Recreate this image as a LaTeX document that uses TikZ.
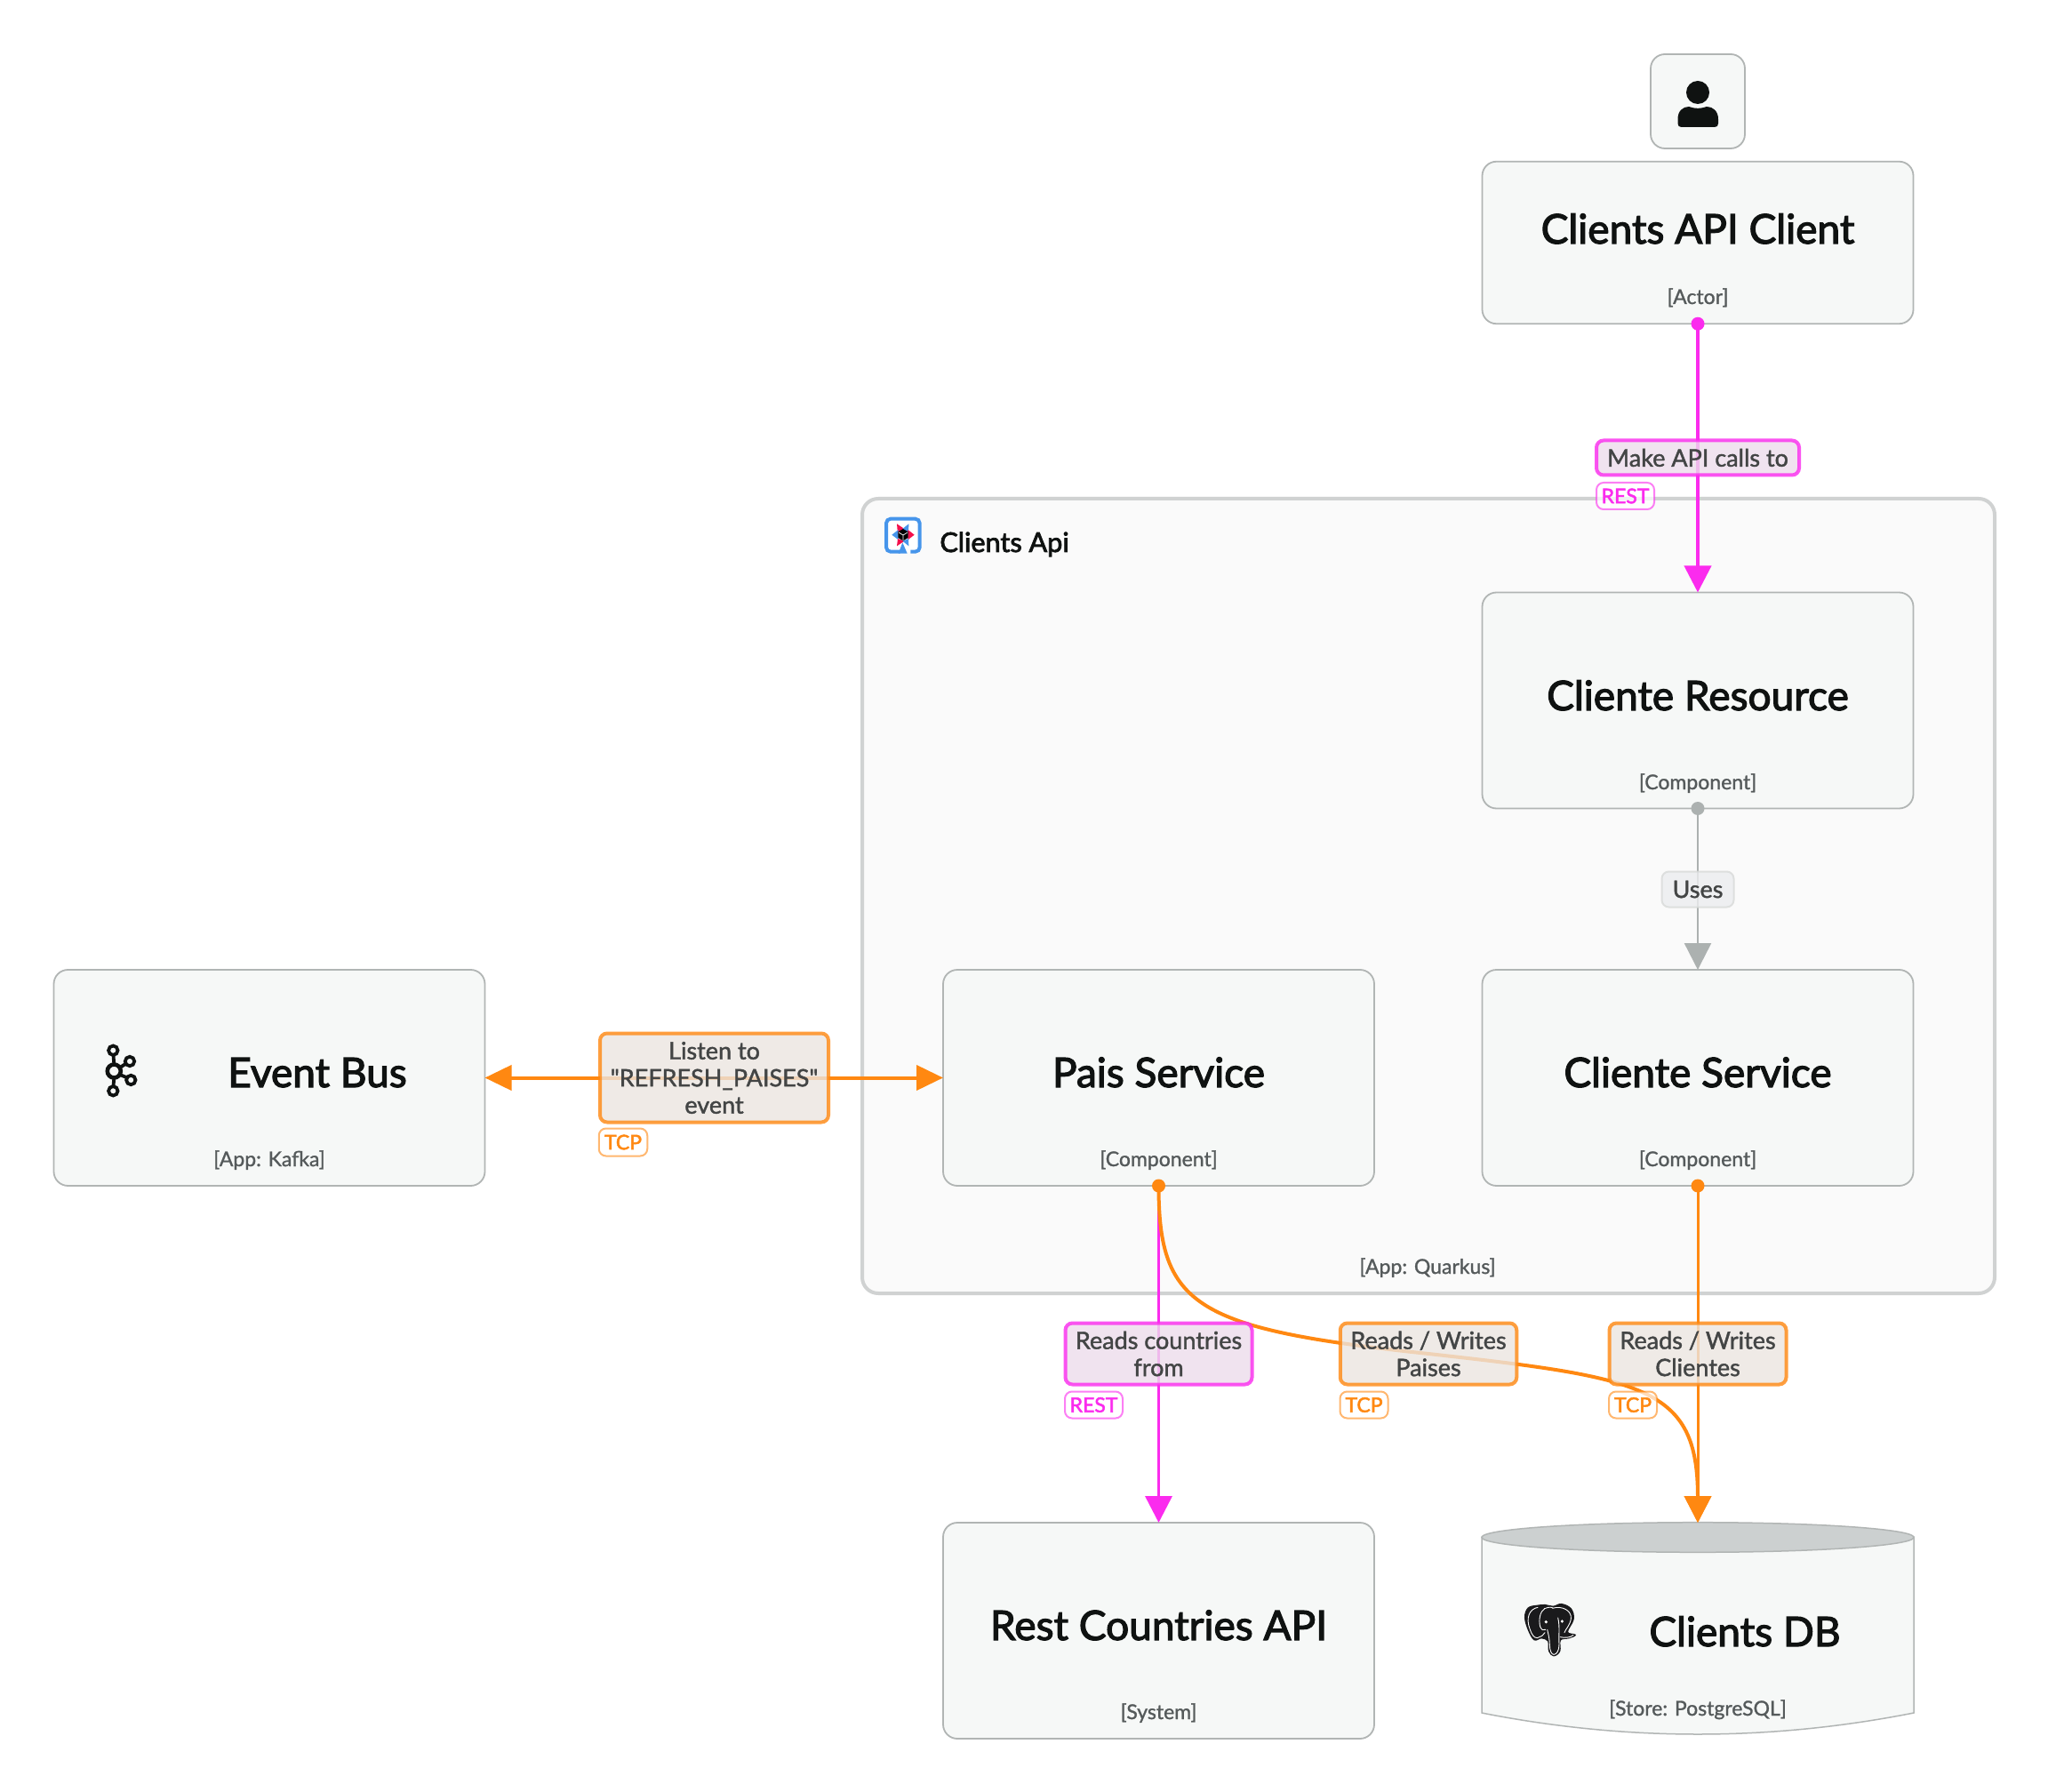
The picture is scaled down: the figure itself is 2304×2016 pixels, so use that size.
\documentclass[tikz,border=0pt]{standalone}
\usepackage{fontspec}
\setmainfont{Lato}
\newfontfamily\medf[FakeBold=2.6]{Lato}
\newfontfamily\tagf[FakeBold=2.2]{Lato}
\newfontfamily\lblf[FakeBold=1.5]{Lato}
\newfontfamily\subf[FakeBold=1.2]{Lato}
\usetikzlibrary{arrows.meta,calc}
\definecolor{boxfill}{HTML}{F6F8F7}
\definecolor{boxline}{HTML}{B1B5B4}
\definecolor{apifill}{HTML}{FAFAFA}
\definecolor{apiline}{HTML}{D0D2D2}
\definecolor{ink}{HTML}{0F1211}
\definecolor{subink}{HTML}{555A5B}
\definecolor{lblink}{HTML}{434545}
\definecolor{magentaL}{HTML}{FB2BEE}
\definecolor{orangeL}{HTML}{FF8811}
\definecolor{greyL}{HTML}{ACB1B0}
\definecolor{magFill}{HTML}{EDDDEC}
\definecolor{oraFill}{HTML}{EBE5E0}
\definecolor{usesFill}{HTML}{ECEDEF}
\definecolor{qblue}{HTML}{4695EB}
\definecolor{qred}{HTML}{F40F4B}
\definecolor{eleph}{HTML}{1A1A1C}
\definecolor{dbtop}{HTML}{CCD0D0}
\tikzset{
  box/.style={draw=boxline,fill=boxfill,rounded corners=8pt,line width=.9pt,minimum width=242.5pt,minimum height=121.5pt,inner sep=0pt,outer sep=0pt},
  titletext/.style={anchor=base,inner sep=0pt,text=ink,font=\medf\fontsize{23}{28}\selectfont},
  subtext/.style={anchor=base,inner sep=0pt,text=subink,font=\subf\fontsize{11.5}{13}\selectfont},
  lblbox/.style={rounded corners=4pt,line width=2pt,inner sep=0pt,outer sep=0pt,align=center,text=lblink,fill opacity=.8,draw opacity=.8,text opacity=1,font=\lblf\fontsize{13.5}{15.25}\selectfont,execute at begin node={\vspace*{1pt}}},
  maglbl/.style={lblbox,draw=magentaL,fill=magFill},
  oralbl/.style={lblbox,draw=orangeL,fill=oraFill},
  tagbox/.style={rounded corners=4pt,line width=1pt,inner sep=0pt,outer sep=0pt,fill=white,fill opacity=.7,draw opacity=.6,text opacity=1,font=\tagf\fontsize{11.5}{13}\selectfont},
  magtag/.style={tagbox,draw=magentaL,text=magentaL},
  oratag/.style={tagbox,draw=orangeL,text=orangeL},
  startdot/.style={circle,minimum size=7.5pt,inner sep=0pt,fill=#1},
  conn/.style={line width=#1},
  bigtip/.style={-{Triangle[length=15pt,width=15pt]}},
}
\begin{document}
\begin{tikzpicture}[x=0.5pt,y=-0.5pt]
\useasboundingbox (0,0) rectangle (2304,2016);
\fill[white] (0,0) rectangle (2304,2016);

% container
\node[draw=apiline,fill=apifill,rounded corners=9pt,line width=2pt,minimum width=637pt,minimum height=447pt,inner sep=0pt,outer sep=0pt] (api) at (1607,1008) {};
\node[anchor=base west,inner sep=0pt,text=ink,font=\medf\fontsize{15.3}{18}\selectfont] (apiname) at (1057,621) {Clients Api};
\node[subtext] (apisub) at (1606,1433) {[App: Quarkus]};

% Quarkus icon
\begin{scope}[shift={(990,576)},x=0.1667pt,y=-0.1667pt]
  \fill[white] (21,23) rectangle (134,134);
  \draw[line width=2pt,qblue,rounded corners=2.5pt]
     (103,134) -- (134,134) -- (134,23) -- (21,23) -- (21,134) -- (68,134);
  \fill[qblue] (76,103) -- (92,140) -- (62,140) -- cycle;
  \fill[qred] (57,40) -- (82,57) -- (60,75) -- cycle;
  \fill[qblue] (97,40) -- (76,57) -- (96,75) -- cycle;
  \fill[qred] (116,77) -- (94,60) -- (94,94) -- cycle;
  \fill[qblue] (40,77) -- (62,60) -- (62,94) -- cycle;
  \fill[qred] (57,115) -- (60,90) -- (82,98) -- cycle;
  \fill[qblue] (97,115) -- (96,90) -- (76,98) -- cycle;
  \fill[black] (78,57) -- (95,67) -- (95,87) -- (78,97) -- (61,87) -- (61,67) -- cycle;
  \draw[white,line width=.35pt] (78,78) -- (78,96) (78,78) -- (63,69) (78,78) -- (93,69);
\end{scope}

% boxes
\node[box,minimum height=91.25pt] (client) at (1910,273) {};
\node[box] (res) at (1910,788) {};
\node[box] (svc) at (1910,1212.5) {};
\node[box] (pais) at (1303.5,1212.5) {};
\node[box] (bus) at (303,1212.5) {};
\node[box] (rest) at (1303.5,1834.5) {};
\node[box,rounded corners=8pt,minimum width=53pt,minimum height=53pt] (actor) at (1910,114) {};

% person icon
\fill[ink] (1910,104) circle[radius=6.5pt];
\fill[ink] (1887.5,139) .. controls (1887.5,141.5) and (1889,143) .. (1891.5,143) -- (1929,143) .. controls (1931.5,143) and (1933,141.5) .. (1933,139) -- (1933,134) .. controls (1933,125) and (1927,120) .. (1920,120) .. controls (1913,122.5) and (1907,122.5) .. (1900,120) .. controls (1893,120) and (1887.5,125) .. (1887.5,134) -- cycle;

% db cylinder
\draw[boxline,fill=boxfill,line width=.75pt] (1667,1729) -- (1667,1927) .. controls (1829,1959) and (1991,1959) .. (2153,1927) -- (2153,1729) -- cycle;
\draw[boxline,fill=dbtop,line width=.75pt] (1910,1729.5) ellipse[x radius=121.5pt,y radius=8.4pt];
\node[inner sep=0pt,outer sep=0pt,minimum width=243pt,minimum height=119pt] (db) at (1910,1832) {};

% texts in boxes
\node[titletext] (t1) at (1910,274) {Clients API Client};
\node[subtext] (s1) at (1910,342) {[Actor]};
\node[titletext] (t2) at (1910,799) {Cliente Resource};
\node[subtext] (s2) at (1910,888) {[Component]};
\node[titletext] (t3) at (1910,1223) {Cliente Service};
\node[subtext] (s3) at (1910,1312) {[Component]};
\node[titletext] (t4) at (1303.5,1223) {Pais Service};
\node[subtext] (s4) at (1303.5,1312) {[Component]};
\node[titletext] (t5) at (357,1223) {Event Bus};
\node[subtext] (s5) at (303,1312) {[App: Kafka]};
\node[titletext] (t6) at (1303.5,1845) {Rest Countries API};
\node[subtext] (s6) at (1303.5,1934) {[System]};
\node[titletext] (t7) at (1963,1852) {Clients DB};
\node[subtext] (s7) at (1910,1930) {[Store: PostgreSQL]};

% Kafka icon
\begin{scope}[ink,line width=1.9pt]
  \draw (127.5,1187) -- (128.3,1197) (128.3,1213) -- (127.5,1222);
  \draw (135,1201) -- (141,1197) (135,1209) -- (142,1212);
  \draw (127.3,1181.7) circle[radius=2.6pt];
  \draw (146,1194) circle[radius=2.6pt];
  \draw (147.3,1215) circle[radius=2.6pt];
  \draw (127.3,1227.3) circle[radius=2.6pt];
  \draw[line width=2.3pt] (128.3,1205) circle[radius=3.75pt];
\end{scope}

% elephant icon
\begin{scope}[shift={(1710,1800)},x=0.1667pt,y=-0.1667pt]
  \draw[fill=eleph,draw=eleph,line width=.7pt]
    plot[smooth cycle,tension=.6] coordinates {(58,19) (28,27) (17,58) (28,100) (48,134) (72,128) (95,138) (98,172) (114,188) (134,172) (136,135) (165,128) (186,118) (160,108) (180,65) (172,30) (140,14) (112,22) (85,17)};
  \draw[white,line width=.45pt,line cap=round]
    (60,25) .. controls (32,30) and (18,60) .. (34,100) .. controls (40,118) and (48,128) .. (58,128)
    (58,128) .. controls (72,122) and (80,120) .. (84,110)
    (84,28) .. controls (68,38) and (62,65) .. (68,90) .. controls (72,100) and (80,105) .. (86,100)
    (110,28) .. controls (140,18) and (175,35) .. (172,62) .. controls (170,85) and (152,100) .. (150,110)
    (86,28) .. controls (100,22) and (108,25) .. (112,27)
    (128,60) .. controls (135,90) and (130,120) .. (132,150) .. controls (132,170) and (124,184) .. (114,184) .. controls (106,184) and (100,170) .. (100,150) .. controls (100,135) and (96,115) .. (92,100)
    (136,125) .. controls (150,128) and (170,128) .. (180,118);
  \fill[white] (88,74) circle[radius=.9pt] (142,72) circle[radius=.9pt];
\end{scope}

% connectors
\draw[conn=2pt,magentaL,bigtip] (client.south) -- (res.north);
\draw[conn=1.25pt,greyL,bigtip] (res.south) -- (svc.north);
\draw[conn=2pt,orangeL,{Triangle[length=15pt,width=14pt]}-{Triangle[length=15pt,width=14pt]}] (bus.east) -- (pais.west);
\draw[conn=1.75pt,magentaL,bigtip] (pais.south) -- (rest.north);
\coordinate (curvemid) at (1607,1523);
\draw[conn=2pt,orangeL,bigtip] (pais.south) .. controls (1303.5,1470) and (1345,1495) .. (curvemid) .. controls (1850,1550) and (1910,1560) .. (db.north);
\draw[conn=1.5pt,orangeL,bigtip] (svc.south) -- (db.north);

% start dots
\node[startdot=magentaL] (d1) at (client.south) {};
\node[startdot=greyL] (d2) at (res.south) {};
\node[startdot=orangeL] (d3) at (pais.south) {};
\node[startdot=orangeL] (d4) at (svc.south) {};

% labels
\node[maglbl,minimum width=114pt,minimum height=19.5pt] (l1) at (1910,515) {Make API calls to};
\node[magtag,minimum width=32.5pt,minimum height=15pt] (g1) at (1828.5,558) {REST};
\node[lblbox,draw=boxline!50,fill=usesFill,line width=1pt,minimum width=40.5pt,minimum height=20pt] (l2) at (1910,1000.5) {Uses};
\node[oralbl,minimum width=128.5pt,minimum height=50pt] (l3) at (803.5,1212.5) {Listen to\\"REFRESH\_PAISES"\\event};
\node[oratag,minimum width=27.25pt,minimum height=15.5pt] (g3) at (701,1285) {TCP};
\node[maglbl,minimum width=105pt,minimum height=34.5pt] (l4) at (1303.5,1523) {Reads countries\\from};
\node[magtag,minimum width=32.5pt,minimum height=15pt] (g4) at (1230.5,1580.5) {REST};
\node[oralbl,minimum width=99.25pt,minimum height=34.5pt] (l5) at (1607,1523) {Reads / Writes\\Paises};
\node[oratag,minimum width=27pt,minimum height=15pt] (g5) at (1534.5,1580.5) {TCP};
\node[oralbl,minimum width=99.5pt,minimum height=34.5pt] (l6) at (1910,1523) {Reads / Writes\\Clientes};
\node[oratag,minimum width=27pt,minimum height=15pt] (g6) at (1837,1580.5) {TCP};
\end{tikzpicture}
\end{document}
